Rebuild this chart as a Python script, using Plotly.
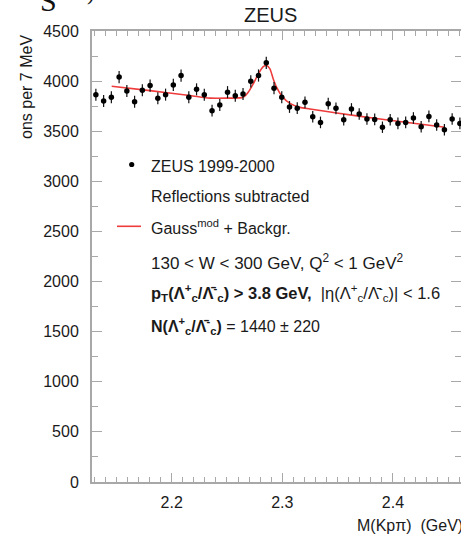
import plotly.graph_objects as go

# ---------------- data ----------------
mass = [2.1315, 2.1385, 2.1455, 2.1525, 2.1595, 2.1665, 2.1735, 2.1805,
        2.1875, 2.1945, 2.2015, 2.2085, 2.2155, 2.2225, 2.2295, 2.2365,
        2.2435, 2.2505, 2.2575, 2.2645, 2.2715, 2.2785, 2.2855, 2.2925,
        2.2995, 2.3065, 2.3135, 2.3205, 2.3275, 2.3345, 2.3415, 2.3485,
        2.3555, 2.3625, 2.3695, 2.3765, 2.3835, 2.3905, 2.3975, 2.4045,
        2.4115, 2.4185, 2.4255, 2.4325, 2.4395, 2.4465, 2.4535, 2.4605]
counts = [3865, 3802, 3838, 4040, 3902, 3795, 3908, 3955,
          3828, 3865, 3962, 4055, 3838, 3918, 3865, 3705,
          3762, 3890, 3855, 3872, 3998, 4056, 4182, 3930,
          3838, 3742, 3730, 3788, 3645, 3588, 3775, 3728,
          3615, 3722, 3672, 3622, 3618, 3540, 3615, 3578,
          3588, 3632, 3545, 3648, 3562, 3515, 3622, 3578]
errors = [60, 60, 60, 61, 60, 60, 60, 61,
          60, 60, 61, 61, 60, 60, 60, 59,
          59, 60, 60, 60, 61, 61, 62, 60,
          60, 59, 59, 59, 58, 58, 59, 59,
          58, 58, 58, 58, 58, 57, 58, 58,
          58, 58, 57, 58, 58, 57, 58, 58]

fit_mass = [2.1458, 2.1804, 2.2165, 2.2347, 2.2500, 2.2647, 2.2692, 2.2737,
            2.2783, 2.2828, 2.2859, 2.2888, 2.2918, 2.2949, 2.2994, 2.3069,
            2.3160, 2.3250, 2.3476, 2.3883, 2.4470]
fit_vals = [3948, 3905, 3857, 3830, 3830, 3838, 3888, 3972,
            4072, 4145, 4155, 4122, 4022, 3938, 3855, 3778,
            3738, 3722, 3684, 3622, 3540]

x_ticks = [2.2, 2.3, 2.4]
y_ticks = [0, 500, 1000, 1500, 2000, 2500, 3000, 3500, 4000, 4500]
x_range = [2.128, 2.4615]
y_range = [0, 4500]

# ---------------- figure ----------------
FONT = "Liberation Sans, Arial, sans-serif"
AXC = "#a8a8a8"

fig = go.Figure()
fig.add_trace(go.Scatter(
    x=fit_mass, y=fit_vals, mode="lines",
    line=dict(color="#ee3b3b", width=1.6, shape="spline", smoothing=0.7),
    hoverinfo="skip", showlegend=False))
fig.add_trace(go.Scatter(
    x=mass, y=counts, mode="markers",
    marker=dict(color="black", size=5.5),
    error_y=dict(type="data", array=errors, visible=True,
                 color="#111111", thickness=1.2, width=0),
    showlegend=False))
# empty trace so that the mirrored (top/right) frame axes are drawn
fig.add_trace(go.Scatter(x=[], y=[], xaxis="x2", yaxis="y2",
                         hoverinfo="skip", showlegend=False))

W, H = 461, 536
L, R, T, B = 92, 0, 31, 54
pw, ph = W - L - R, H - T - B


def px(x):
    return (x - L) / pw


def py(y):
    return (H - B - y) / ph


fig.update_layout(
    width=W, height=H, autosize=False,
    margin=dict(l=L, r=R, t=T, b=B, pad=0),
    paper_bgcolor="white", plot_bgcolor="white",
    font=dict(family=FONT, color="#1a1a1a", size=16),
    showlegend=False,
)
tickfont = dict(size=16, family=FONT, color="#1a1a1a")
fig.update_layout(
    xaxis=dict(
        range=x_range, tickvals=x_ticks, ticktext=[f"{v:.1f}" for v in x_ticks],
        showgrid=False, zeroline=False, showline=True, linecolor=AXC, linewidth=2,
        mirror=False, ticks="inside", ticklen=9, tickwidth=1.2, tickcolor=AXC,
        ticklabelstandoff=5,
        minor=dict(dtick=0.01, ticks="inside", ticklen=5, tickcolor=AXC, tickwidth=1),
        tickfont=tickfont),
    yaxis=dict(
        range=y_range, tickvals=y_ticks, ticktext=[str(v) for v in y_ticks],
        showgrid=False, zeroline=False, showline=True, linecolor=AXC, linewidth=2,
        mirror=False, ticks="inside", ticklen=10, tickwidth=1.2, tickcolor=AXC,
        ticklabelstandoff=8,
        minor=dict(dtick=250, ticks="inside", ticklen=6, tickcolor=AXC, tickwidth=1),
        tickfont=tickfont),
    xaxis2=dict(
        overlaying="x", side="top", anchor="y2", range=x_range, tickvals=x_ticks,
        showticklabels=False, showgrid=False, zeroline=False,
        showline=True, linecolor=AXC, linewidth=2,
        ticks="inside", ticklen=9, tickwidth=1.2, tickcolor=AXC,
        minor=dict(dtick=0.01, ticks="inside", ticklen=5, tickcolor=AXC, tickwidth=1)),
    yaxis2=dict(
        overlaying="y", side="right", anchor="x2", range=y_range, tickvals=y_ticks,
        showticklabels=False, showgrid=False, zeroline=False, showline=False,
        ticks="inside", ticklen=10, tickwidth=1.2, tickcolor=AXC,
        minor=dict(dtick=250, ticks="inside", ticklen=6, tickcolor=AXC, tickwidth=1)),
)

ann = []


def add_text(text, x, y, size=16, xanchor="left", yanchor="middle", angle=0, family=FONT, color="#1a1a1a"):
    ann.append(dict(text=text, x=px(x), y=py(y), xref="paper", yref="paper",
                    xanchor=xanchor, yanchor=yanchor, showarrow=False, textangle=angle,
                    font=dict(size=size, family=family, color=color)))


add_text("ZEUS", 270, 15, size=20, xanchor="center")
add_text("ons per 7 MeV", 26, 87, size=16, xanchor="center", angle=-90)
add_text("M(Kpπ)\u00a0\u00a0(GeV)", 355, 525, size=16)
add_text("S", 48, 19, size=30, xanchor="center", yanchor="bottom",
         family="Liberation Serif, serif", color="#111")
add_text(")", 90, 7, size=22, xanchor="center", yanchor="bottom",
         family="Liberation Serif, serif", color="#111")

LX = 149
lam = "Λ<sup>+</sup><sub>c</sub>/Λ̄<sup>-</sup><sub>c</sub>"
add_text("ZEUS 1999-2000", LX, 166)
add_text("Reflections subtracted", LX, 196)
add_text("Gauss<sup>mod</sup> + Backgr.", LX, 227)
add_text("130 &lt; W &lt; 300 GeV, Q<sup>2</sup> &lt; 1 GeV<sup>2</sup>", LX, 262, size=17)
add_text("<b>p<sub>T</sub>(" + lam + ") &gt; 3.8 GeV,</b>\u00a0\u00a0|η(" + lam + ")| &lt; 1.6", LX, 293, size=16.5)
add_text("<b>N(" + lam + ")</b> = 1440 ± 220", LX, 326, size=16)

fig.update_layout(annotations=ann)

# legend symbols
fig.add_shape(type="circle", xref="paper", yref="paper",
              xsizemode="pixel", ysizemode="pixel",
              xanchor=px(131.7), yanchor=py(164.5),
              x0=-2.6, x1=2.6, y0=-2.6, y1=2.6,
              fillcolor="black", line=dict(color="black", width=0))
fig.add_shape(type="line", xref="paper", yref="paper",
              x0=px(117), x1=px(141), y0=py(226.3), y1=py(226.3),
              line=dict(color="#ee3b3b", width=1.6))

fig.write_html("out.html")
